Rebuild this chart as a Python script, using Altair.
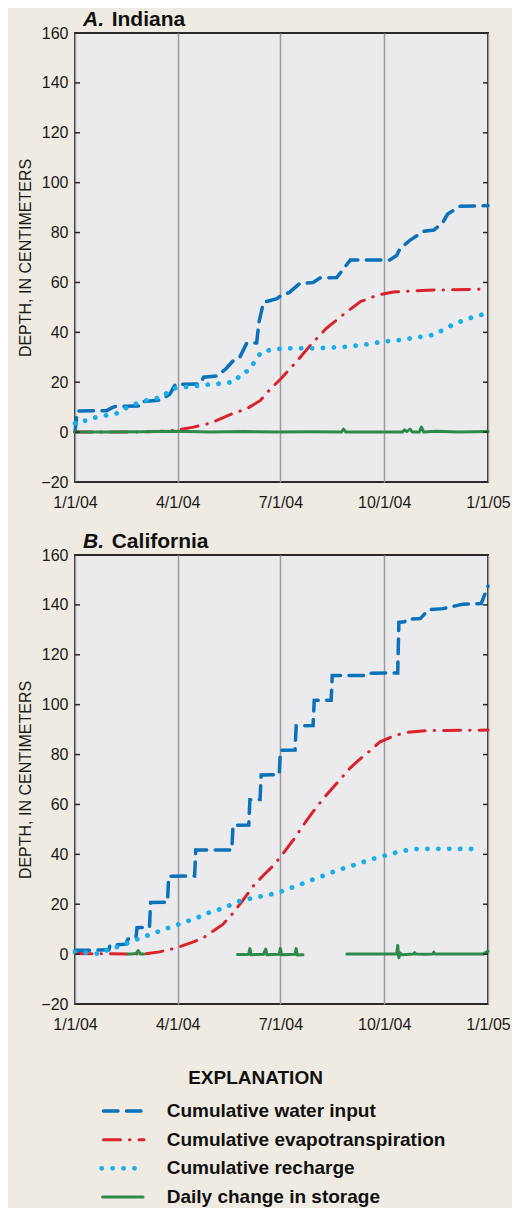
import altair as alt
import pandas as pd

START = pd.Timestamp("2004-01-01")
X_TICKS = [(2004, 1), (2004, 4), (2004, 7), (2004, 10), (2005, 1)]
Y_TICKS = [-20, 0, 20, 40, 60, 80, 100, 120, 140, 160]

SERIES = [
    "Cumulative water input",
    "Cumulative evapotranspiration",
    "Cumulative recharge",
    "Daily change in storage",
]

# ---------------- A. Indiana (day of year, centimeters) ----------------
IN_INPUT_DAY = [0, 2, 28, 33, 36, 59, 61, 75, 84, 89, 111, 114, 126, 134, 140, 146, 152, 161, 163, 167,
                179, 182, 190, 199, 211, 217, 232, 238, 244, 279, 285, 288, 297, 309, 318, 326, 330, 341, 366]
IN_INPUT_VAL = [0, 8.5, 8.6, 9.8, 10.3, 10.5, 12.3, 12.8, 15.2, 19.2, 19.3, 22, 22.5, 25.5, 28.5, 30, 35.5, 35.8, 44, 52,
                53.5, 54.6, 56, 59.5, 60, 61.8, 62, 65.5, 69, 69, 70.8, 73.5, 77, 80.5, 81, 84, 87.3, 90.5, 90.8]

IN_ET_DAY = [0, 40, 60, 75, 89, 105, 120, 139, 152, 164, 173, 182, 194, 209, 223, 238, 253, 268, 282, 312, 366]
IN_ET_VAL = [0, 0, 0.1, 0.3, 0.7, 2, 3.6, 7.3, 9.3, 12.6, 17.2, 21.2, 27.1, 35, 41.7, 47.2, 52.3, 54.9, 56.2, 56.9, 57.3]

IN_RECH_DAY = [0, 2, 11, 20, 29, 39, 48, 58, 67, 77, 85, 94, 104, 113, 123, 132, 142, 147, 155, 160,
               166, 175, 185, 195, 204, 214, 223, 233, 242, 252, 261, 270, 280, 289, 299, 309, 318, 328, 337, 347,
               356, 366]
IN_RECH_VAL = [3.5, 4.4, 4.6, 6.2, 6.8, 7.7, 10.6, 11.9, 13.2, 13.9, 17.2, 18.1, 18.2, 18.9, 19.2, 19.6, 20.2, 23.4, 24.9, 29,
               32.5, 33, 33.6, 33.6, 33.6, 33.6, 33.8, 34, 34.3, 34.8, 35.3, 36.1, 36.6, 37, 37.7, 38.4, 39, 41.4, 43.6, 45.2,
               46.7, 47.5]

IN_STOR_DAY = [[0, 30, 60, 90, 120, 150, 180, 210, 236, 238, 240, 270, 290, 292, 294, 297, 299, 305, 307, 309, 320, 340, 366]]
IN_STOR_VAL = [[0, 0, 0.1, 0.3, 0, 0.2, 0, 0.1, 0, 1.2, 0, 0, 0, 0.9, 0.2, 1.2, 0, 0, 2, 0, 0.3, 0, 0.2]]

# ---------------- B. California ----------------
CA_INPUT_DAY = [0, 30, 31, 45, 47, 54, 55, 66, 67, 82, 83, 106, 107, 139, 140, 154, 155, 164, 165, 181,
                182, 195, 196, 211, 212, 227, 228, 258, 260, 286, 287, 292, 294, 306, 310, 313, 326, 344, 360, 363, 366]
CA_INPUT_VAL = [1.5, 1.7, 3.6, 4, 6, 6.5, 10.6, 10.7, 20.7, 20.8, 31.2, 31.3, 41.7, 41.7, 51.6, 51.7, 61.9, 62, 71.8, 72,
                81.7, 81.8, 91.5, 91.6, 101.7, 101.8, 111.7, 111.7, 112.6, 112.7, 133, 133.2, 134.3, 134.5, 136.5, 138, 138.5,
                140.3, 140.5, 144, 147.5]

CA_ET_DAY = [0, 61, 75, 89, 105, 114, 121, 131, 140, 149, 158, 167, 176, 182, 194, 205, 214, 223, 232, 244,
             253, 262, 270, 282, 294, 312, 366]
CA_ET_VAL = [0.2, 0, 0.9, 2.4, 4.9, 6.6, 8.8, 11.9, 16.4, 21.7, 27.3, 31.6, 35.6, 38.9, 46.1, 53.4, 58.9, 63.9, 68.5, 74.7,
             78.4, 81.7, 85, 87.4, 88.9, 89.6, 89.8]

CA_RECH_DAY = [0, 15, 22, 31, 41, 51, 60, 69, 79, 89, 98, 108, 117, 127, 137, 146, 155, 166, 175, 185,
               194, 204, 213, 223, 232, 242, 251, 261, 270, 280, 289, 299, 320, 340, 356]
CA_RECH_VAL = [0.8, 0.5, 0, 2.2, 3.3, 5.3, 6.7, 8.3, 9.9, 11.5, 13, 14.5, 16.4, 17.8, 19.5, 21.3, 22.2, 23.3, 24.1, 25.4,
               27, 28.6, 30.3, 31.9, 33.6, 34.9, 36.2, 37.8, 38.9, 40.2, 41.2, 42.1, 42.2, 42.2, 42.1]

CA_STOR_DAY = [
    [47, 50, 54, 56, 58, 61],
    [144, 150, 154, 155, 156, 160, 167, 169, 170, 175, 181, 182, 183, 190, 195, 196, 197, 202],
    [241, 260, 280, 285, 286, 287, 288, 290, 300, 301, 302, 310, 317, 318, 319, 330, 350, 362, 366],
]
CA_STOR_VAL = [
    [0, 0, 0.2, 1.4, 0, 0],
    [-0.2, -0.2, -0.1, 2.2, -0.3, -0.2, -0.1, 2.0, -0.3, -0.2, -0.1, 2.3, -0.3, -0.2, -0.1, 2.2, -0.4, -0.3],
    [0, 0, 0, 0, 3.5, -1.5, 0.5, -0.3, 0, 0.6, 0, -0.1, 0, 0.8, 0, 0, 0, 0, 1.2],
]

# ---------------- styling ----------------
FONT = "Liberation Sans, Arial, sans-serif"
PLOT_W, PLOT_H = 413, 449

STYLE = {
    SERIES[0]: dict(color="#0B71B9", strokeDash=[14.5, 8.5], strokeWidth=3.5, strokeCap="round"),
    SERIES[1]: dict(color="#D8232B", strokeDash=[17, 9, 0.5, 9], strokeWidth=3, strokeCap="round"),
    SERIES[2]: dict(color="#17AEEA", strokeDash=[0.1, 10.8], strokeWidth=4.8, strokeCap="round"),
    SERIES[3]: dict(color="#2E8A4A", strokeWidth=3, strokeCap="round", strokeJoin="round"),
}
LEGEND_SYMBOL_X = [(28.5, 67), (28.5, 69), (26.7, 60), (27.5, 68)]


def to_dates(days):
    return [(START + pd.Timedelta(days=d)).strftime("%Y-%m-%d") for d in days]


def frame(days, vals, seg=0):
    return pd.DataFrame({"date": to_dates(days), "value": vals, "seg": seg})


def dt(y, m):
    return alt.DateTime(year=y, month=m, date=1, utc=True)


X_ENC = alt.X(
    "date:T",
    scale=alt.Scale(type="utc", domain=[dt(2004, 1), dt(2005, 1)], nice=False),
    axis=alt.Axis(
        values=[dt(y, m) for y, m in X_TICKS],
        labelExpr="utcFormat(datum.value, '%-m/%-d/%y')",
        grid=True, gridColor="#9c9c9c", gridWidth=1.5, ticks=False, tickSize=0, domain=False,
        labelFont=FONT, labelFontSize=16, labelColor="#1a1a1a", labelPadding=12,
        labelFlush=False, labelOverlap=False, title=None,
    ),
)
Y_SCALE = alt.Scale(domain=[-20, 160], nice=False, zero=False)
Y_AXIS = alt.Axis(
    values=Y_TICKS, grid=False, ticks=False, tickSize=0, domain=False,
    labelFont=FONT, labelFontSize=16, labelColor="#1a1a1a", labelPadding=7,
    labelFlush=False, labelOverlap=False,
    title="DEPTH, IN CENTIMETERS", titleFont=FONT, titleFontSize=16, titleFontWeight="normal",
    titleColor="#1a1a1a", titlePadding=7,
)
Y_ENC = alt.Y("value:Q", scale=Y_SCALE, axis=Y_AXIS)


def panel(letter, name, data):
    layers = []
    for i, s in enumerate(SERIES):
        days, vals = data[s]
        if s == SERIES[3]:
            df = pd.concat([frame(d, v, k) for k, (d, v) in enumerate(zip(days, vals))], ignore_index=True)
            enc = dict(x=X_ENC, y=Y_ENC, detail="seg:N")
        else:
            df = frame(days, vals)
            enc = dict(x=X_ENC, y=Y_ENC)
        layers.append(alt.Chart(df).mark_line(**STYLE[s]).encode(**enc))
    ticks_df = pd.DataFrame({"value": Y_TICKS})
    for x0, x1 in [(0, 5), (PLOT_W - 5, PLOT_W)]:
        layers.append(
            alt.Chart(ticks_df).mark_rule(color="#2a2a2a", strokeWidth=1.5).encode(
                y=Y_ENC, x=alt.value(x0), x2=alt.value(x1)
            )
        )
    layers.append(
        alt.Chart(pd.DataFrame({"t": [letter + "."]})).mark_text(
            font=FONT, fontSize=21, fontWeight="bold", fontStyle="italic", align="left",
            baseline="alphabetic", color="#111111"
        ).encode(text="t:N", x=alt.value(8), y=alt.value(-7))
    )
    layers.append(
        alt.Chart(pd.DataFrame({"t": [name]})).mark_text(
            font=FONT, fontSize=21, fontWeight="bold", align="left", baseline="alphabetic", color="#111111"
        ).encode(text="t:N", x=alt.value(36.7), y=alt.value(-7))
    )
    return alt.layer(*layers).properties(width=PLOT_W, height=PLOT_H)


indiana = panel("A", "Indiana", {
    SERIES[0]: (IN_INPUT_DAY, IN_INPUT_VAL),
    SERIES[1]: (IN_ET_DAY, IN_ET_VAL),
    SERIES[2]: (IN_RECH_DAY, IN_RECH_VAL),
    SERIES[3]: (IN_STOR_DAY, IN_STOR_VAL),
})
california = panel("B", "California", {
    SERIES[0]: (CA_INPUT_DAY, CA_INPUT_VAL),
    SERIES[1]: (CA_ET_DAY, CA_ET_VAL),
    SERIES[2]: (CA_RECH_DAY, CA_RECH_VAL),
    SERIES[3]: (CA_STOR_DAY, CA_STOR_VAL),
})

# ---------------- legend ----------------
legend_df = pd.DataFrame({"label": SERIES, "row": list(range(len(SERIES)))})
LEG_Y = alt.Y("row:Q", scale=alt.Scale(domain=[0, 3], range=[34, 120]), axis=None)
leg_layers = [
    alt.Chart(pd.DataFrame({"t": ["EXPLANATION"]})).mark_text(
        font=FONT, fontSize=19, fontWeight="bold", align="center", baseline="middle", color="#111111"
    ).encode(text="t:N", x=alt.value(180.5), y=alt.value(1))
]
for i, s in enumerate(SERIES):
    x0, x1 = LEGEND_SYMBOL_X[i]
    leg_layers.append(
        alt.Chart(legend_df).transform_filter(alt.datum.row == i).mark_rule(**STYLE[s]).encode(
            x=alt.value(x0), x2=alt.value(x1), y=LEG_Y
        )
    )
leg_layers.append(
    alt.Chart(legend_df).mark_text(
        font=FONT, fontSize=19, fontWeight="bold", align="left", baseline="middle", color="#111111"
    ).encode(text="label:N", x=alt.value(91.7), y=LEG_Y)
)
legend = alt.layer(*leg_layers).properties(
    width=PLOT_W, height=130, view=alt.ViewBackground(fill="transparent", stroke="transparent")
)

chart = alt.vconcat(indiana, california, legend, spacing=73, bounds="flush").properties(
    background="#EFEBE2",
    padding={"left": 8, "top": 0, "right": 0, "bottom": 0},
).configure_view(fill="#EBEBEE", stroke="#2a2a2a", strokeWidth=2)

chart.save("out.html", embed_options={"renderer": "svg", "actions": False})
